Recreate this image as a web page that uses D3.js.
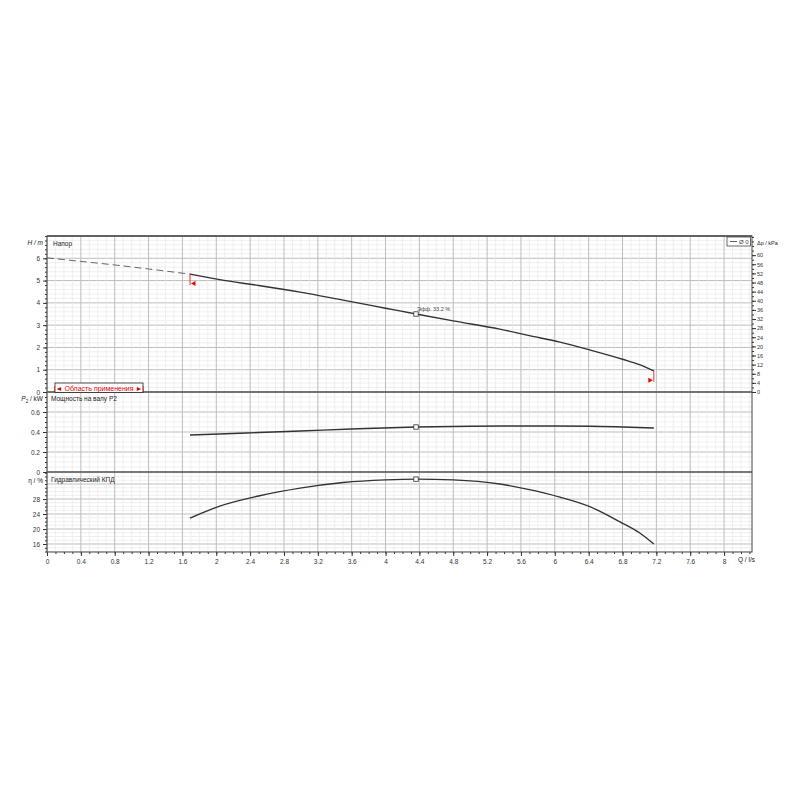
<!DOCTYPE html>
<html lang="ru">
  <head>
    <meta charset="utf-8" />
    <title>Pump curve</title>
    <script src="https://cdnjs.cloudflare.com/ajax/libs/d3/7.8.5/d3.min.js"></script>
    <style>
      body { margin: 0; background: #fff; }
      text { font-family: "Liberation Sans", Arial, sans-serif; }
    </style>
  </head>
  <body>
    <div id="chart"></div>
    <script>
    // flow values, l/s
    var qDashed = [0, 0.4, 0.8, 1.2, 1.69];
    var hDashed = [6.02, 5.86, 5.7, 5.52, 5.29];

    var qH = [1.69, 2.04, 2.5, 2.99, 3.5, 4.0, 4.36, 4.8, 5.35, 5.7, 6.06, 6.42, 6.8, 7.0, 7.17];
    var hVals = [5.29, 5.04, 4.78, 4.48, 4.12, 3.76, 3.5, 3.19, 2.82, 2.53, 2.24, 1.88, 1.47, 1.23, 0.95];

    var qP = [1.69, 2.04, 2.5, 2.99, 3.6, 4.36, 5.0, 5.35, 6.0, 6.42, 6.8, 7.17];
    var pVals = [0.37, 0.38, 0.395, 0.41, 0.43, 0.45, 0.458, 0.46, 0.46, 0.458, 0.45, 0.44];

    var qEta = [1.69, 2.04, 2.5, 2.99, 3.5, 4.0, 4.36, 4.8, 5.35, 5.7, 6.06, 6.42, 6.77, 7.0, 7.17];
    var etaVals = [22.9, 26.1, 28.8, 30.9, 32.4, 33.1, 33.3, 33.1, 32.0, 30.5, 28.5, 25.9, 21.9, 19.0, 16.0];

    var dutyQ = 4.36;
    var rangeQ = [1.69, 7.17];

    var xLabels = d3.range(0, 8.01, 0.4);
    var hLabels = [0, 1, 2, 3, 4, 5, 6];
    var pLabels = [0, 0.2, 0.4, 0.6];
    var etaLabels = [16, 20, 24, 28];
    var kpaLabels = d3.range(0, 61, 4);

    var svg = d3.select("#chart").append("svg")
      .attr("width", 800).attr("height", 800);

    var left = 47, right = 752;
    var x = d3.scaleLinear().domain([0, 8.33]).range([left, right]);
    var yH = d3.scaleLinear().domain([0, 7]).range([392, 236]);
    var yKpa = d3.scaleLinear().domain([0, 68.4]).range([392, 236]);
    var yP = d3.scaleLinear().domain([0, 0.8]).range([472, 392]);
    var yE = d3.scaleLinear().domain([13.87, 35.2]).range([552, 472]);

    var fs = 6.5;

    // grid for one panel
    function grid(y, minorStep, majorStep) {
      var d = y.domain();
      var g = svg.append("g");
      var start = Math.ceil(d[0] / minorStep - 1e-6) * minorStep;
      d3.range(start, d[1] + 1e-6, minorStep).forEach(function (v) {
        var major = Math.abs(v / majorStep - Math.round(v / majorStep)) < 1e-4;
        g.append("line")
          .attr("x1", left).attr("x2", right)
          .attr("y1", y(v)).attr("y2", y(v))
          .attr("stroke", major ? "#bdbdbd" : "#e6e6e6")
          .attr("stroke-width", major ? 1 : 0.6);
      });
      d3.range(0, 8.34, 0.1).forEach(function (v, i) {
        var major = i % 4 === 0;
        g.append("line")
          .attr("x1", x(v)).attr("x2", x(v))
          .attr("y1", y.range()[0]).attr("y2", y.range()[1])
          .attr("stroke", major ? "#bdbdbd" : "#e6e6e6")
          .attr("stroke-width", major ? 1 : 0.6);
      });
    }
    grid(yH, 0.2, 1);
    grid(yP, 0.05, 0.2);
    grid(yE, 1, 4);

    // left axes
    function leftAxis(y, labels, minorStep, fmt) {
      var d = y.domain();
      var start = Math.ceil(d[0] / minorStep - 1e-6) * minorStep;
      svg.append("g")
        .attr("transform", "translate(" + left + ",0)")
        .call(d3.axisLeft(y).tickValues(d3.range(start, d[1] + 1e-6, minorStep)).tickSize(2).tickFormat(""))
        .call(function (g) { g.select(".domain").remove(); g.selectAll("line").attr("stroke", "#333"); });
      svg.append("g")
        .attr("transform", "translate(" + left + ",0)")
        .call(d3.axisLeft(y).tickValues(labels).tickSize(4).tickFormat(fmt))
        .call(function (g) {
          g.select(".domain").remove();
          g.selectAll("line").attr("stroke", "#333");
          g.selectAll("text").attr("font-size", fs).attr("fill", "#333")
            .attr("font-family", "Liberation Sans, Arial, sans-serif");
        });
    }
    leftAxis(yH, hLabels, 0.2, d3.format("d"));
    leftAxis(yP, pLabels, 0.05, function (d) { return d === 0 ? "0" : d3.format(".1f")(d); });
    leftAxis(yE, etaLabels, 1, d3.format("d"));

    // right kPa axis
    svg.append("g")
      .attr("transform", "translate(" + right + ",0)")
      .call(d3.axisRight(yKpa).tickValues(d3.range(0, 68.4, 2)).tickSize(2).tickFormat(""))
      .call(function (g) { g.select(".domain").remove(); g.selectAll("line").attr("stroke", "#333"); });
    svg.append("g")
      .attr("transform", "translate(" + right + ",0)")
      .call(d3.axisRight(yKpa).tickValues(kpaLabels).tickSize(4).tickPadding(1).tickFormat(d3.format("d")))
      .call(function (g) {
        g.select(".domain").remove();
        g.selectAll("line").attr("stroke", "#333");
        g.selectAll("text").attr("font-size", 5.5).attr("fill", "#333")
          .attr("font-family", "Liberation Sans, Arial, sans-serif");
      });

    // bottom axis
    svg.append("g")
      .attr("transform", "translate(0,552)")
      .call(d3.axisBottom(x).tickValues(d3.range(0, 8.34, 0.1)).tickSize(2).tickFormat(""))
      .call(function (g) { g.select(".domain").remove(); g.selectAll("line").attr("stroke", "#333"); });
    svg.append("g")
      .attr("transform", "translate(0,552)")
      .call(d3.axisBottom(x).tickValues(xLabels).tickSize(4).tickPadding(3).tickFormat(function (d) { return d3.format("~g")(+d.toFixed(1)); }))
      .call(function (g) {
        g.select(".domain").remove();
        g.selectAll("line").attr("stroke", "#333");
        g.selectAll("text").attr("font-size", fs).attr("fill", "#333")
          .attr("font-family", "Liberation Sans, Arial, sans-serif");
      });

    // frame and panel separators
    svg.append("rect").attr("x", left).attr("y", 236).attr("width", right - left).attr("height", 316)
      .attr("fill", "none").attr("stroke", "#444").attr("stroke-width", 1);
    [392, 472].forEach(function (yy) {
      svg.append("line").attr("x1", left).attr("x2", right).attr("y1", yy).attr("y2", yy)
        .attr("stroke", "#555").attr("stroke-width", 1.6);
    });
    svg.append("line").attr("x1", left).attr("x2", right).attr("y1", 236).attr("y2", 236)
      .attr("stroke", "#555").attr("stroke-width", 1.6);

    // curves
    function curve(qs, vs, y, dash) {
      var line = d3.line().x(function (d) { return x(d[0]); }).y(function (d) { return y(d[1]); })
        .curve(d3.curveMonotoneX);
      svg.append("path")
        .attr("d", line(d3.zip(qs, vs)))
        .attr("fill", "none").attr("stroke", dash ? "#555" : "#333")
        .attr("stroke-width", dash ? 0.9 : 1.4)
        .attr("stroke-dasharray", dash ? "7,4" : null);
    }
    curve(qDashed, hDashed, yH, true);
    curve(qH, hVals, yH, false);
    curve(qP, pVals, yP, false);
    curve(qEta, etaVals, yE, false);

    // duty point markers
    function interp(qs, vs, q) { return d3.scaleLinear().domain(qs).range(vs)(q); }
    [[qH, hVals, yH], [qP, pVals, yP], [qEta, etaVals, yE]].forEach(function (c) {
      var v = interp(c[0], c[1], dutyQ);
      svg.append("rect").attr("x", x(dutyQ) - 2.2).attr("y", c[2](v) - 2.2)
        .attr("width", 4.4).attr("height", 4.4)
        .attr("fill", "#fff").attr("stroke", "#333").attr("stroke-width", 0.8);
    });
    svg.append("text").attr("x", x(dutyQ) + 1).attr("y", yH(interp(qH, hVals, dutyQ)) - 3.5)
      .attr("font-size", 5.5).attr("fill", "#444").text("Эфф.  33.2 %");

    // application range markers
    var hL = interp(qH, hVals, rangeQ[0]), hR = interp(qH, hVals, rangeQ[1]);
    svg.append("line").attr("x1", x(rangeQ[0])).attr("x2", x(rangeQ[0]))
      .attr("y1", yH(hL)).attr("y2", yH(hL) + 11).attr("stroke", "#e00").attr("stroke-width", 0.8);
    svg.append("path")
      .attr("d", d3.line()([[x(rangeQ[0]) + 1, yH(hL) + 9.5], [x(rangeQ[0]) + 5.5, yH(hL) + 7], [x(rangeQ[0]) + 5.5, yH(hL) + 12]]))
      .attr("fill", "#e00");
    svg.append("line").attr("x1", x(rangeQ[1])).attr("x2", x(rangeQ[1]))
      .attr("y1", yH(hR)).attr("y2", yH(hR) + 11).attr("stroke", "#e00").attr("stroke-width", 0.8);
    svg.append("path")
      .attr("d", d3.line()([[x(rangeQ[1]) - 1, yH(hR) + 9.5], [x(rangeQ[1]) - 5.5, yH(hR) + 7], [x(rangeQ[1]) - 5.5, yH(hR) + 12]]))
      .attr("fill", "#e00");

    // application range box
    svg.append("rect").attr("x", 55).attr("y", 383).attr("width", 88).attr("height", 9.5)
      .attr("fill", "#fff").attr("stroke", "#222").attr("stroke-width", 0.8);
    svg.append("text").attr("x", 99).attr("y", 390.5).attr("text-anchor", "middle")
      .attr("font-size", 7).attr("fill", "#d00").text("|◄ Область применения ►|");

    // panel titles
    svg.append("text").attr("x", 53).attr("y", 246).attr("font-size", fs).attr("fill", "#222").text("Напор");
    svg.append("text").attr("x", 51).attr("y", 401).attr("font-size", fs).attr("fill", "#222").text("Мощность на валу P2");
    svg.append("text").attr("x", 51).attr("y", 482).attr("font-size", fs).attr("fill", "#222").text("Гидравлический КПД");

    // axis titles
    svg.append("text").attr("x", 43).attr("y", 245).attr("text-anchor", "end").attr("font-size", fs)
      .attr("font-style", "italic").attr("fill", "#222").text("H / m");
    var pt = svg.append("text").attr("x", 43).attr("y", 401).attr("text-anchor", "end").attr("font-size", fs)
      .attr("fill", "#222");
    pt.append("tspan").attr("font-style", "italic").text("P");
    pt.append("tspan").attr("font-size", 4.5).attr("dy", 1.5).text("2");
    pt.append("tspan").attr("dy", -1.5).text(" / kW");
    svg.append("text").attr("x", 43).attr("y", 483).attr("text-anchor", "end").attr("font-size", fs)
      .attr("fill", "#222").text("η / %");
    svg.append("text").attr("x", 757).attr("y", 245).attr("font-size", 5.5).attr("fill", "#222").text("Δp / kPa");
    svg.append("text").attr("x", 738).attr("y", 561.5).attr("font-size", fs).attr("fill", "#222").text("Q / l/s");

    // legend
    svg.append("rect").attr("x", 727).attr("y", 237).attr("width", 23.5).attr("height", 9)
      .attr("fill", "#fff").attr("stroke", "#444").attr("stroke-width", 0.8);
    svg.append("line").attr("x1", 730).attr("x2", 737).attr("y1", 241.5).attr("y2", 241.5)
      .attr("stroke", "#333").attr("stroke-width", 0.8);
    svg.append("text").attr("x", 739).attr("y", 244).attr("font-size", 6).attr("fill", "#444").text("Ø 0");
    </script>
  </body>
</html>
